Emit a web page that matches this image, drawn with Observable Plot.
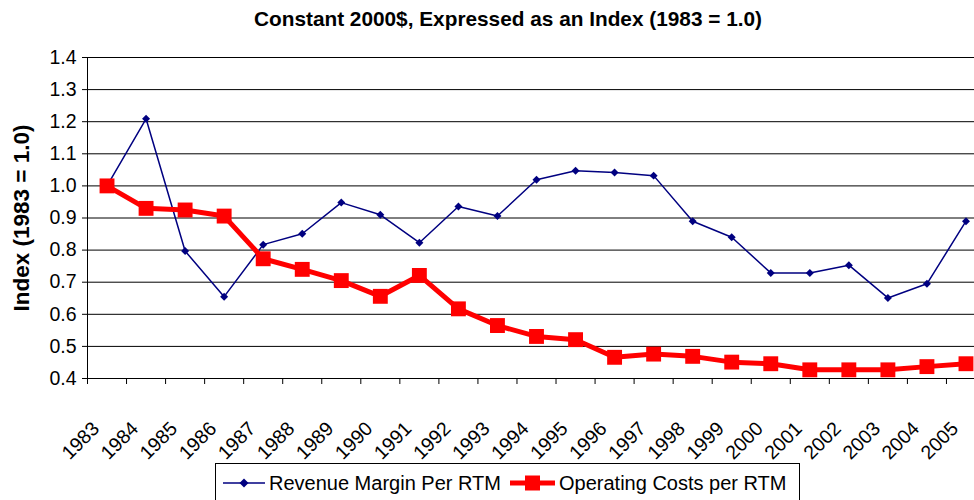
<!DOCTYPE html>
<html>
<head>
<meta charset="utf-8">
<script src="https://cdn.jsdelivr.net/npm/d3@7"></script>
<script src="https://cdn.jsdelivr.net/npm/@observablehq/plot@0.6"></script>
<style>
  html, body { margin: 0; padding: 0; background: #fff; overflow: hidden; width: 974px; height: 500px; }
  body { font-family: "Liberation Sans", Arial, sans-serif; position: relative; }
  #title { position: absolute; left: 0; top: 0; width: 974px; height: 40px; box-sizing: border-box; padding-left: 42px;
           text-align: center; font-weight: bold; font-size: 20.8px; line-height: 38px; color: #000; white-space: nowrap; }
  #chart { position: absolute; left: 0; top: 40px; width: 985px; }
  #chart svg { max-width: none !important; }
  #legend { position: absolute; left: 215px; top: 463px; width: 585px; height: 45px; box-sizing: border-box;
            border: 1px solid #000; font-size: 20px; color: #000; }
  #legend svg { position: absolute; top: 9px; display: block; }
  #legend span { position: absolute; top: 0; line-height: 38px; white-space: nowrap; }
</style>
</head>
<body>
<div id="title"></div>
<div id="chart"></div>
<div id="legend"></div>
<script>
const titleText = "Constant 2000$, Expressed as an Index (1983 = 1.0)";
const yLabel = "Index (1983 = 1.0)";
const seriesNames = ["Revenue Margin Per RTM", "Operating Costs per RTM"];
const seriesColors = ["#000080", "#ff0000"];

const years = [1983, 1984, 1985, 1986, 1987, 1988, 1989, 1990, 1991, 1992, 1993, 1994,
               1995, 1996, 1997, 1998, 1999, 2000, 2001, 2002, 2003, 2004, 2005];
const revenueMargin = [1.0, 1.209, 0.797, 0.655, 0.817, 0.851, 0.948, 0.910, 0.823, 0.936, 0.906, 1.019,
                       1.047, 1.042, 1.032, 0.890, 0.840, 0.729, 0.729, 0.753, 0.651, 0.695, 0.890];
const operatingCosts = [1.0, 0.930, 0.925, 0.906, 0.773, 0.740, 0.705, 0.656, 0.721, 0.617, 0.565, 0.531,
                        0.521, 0.466, 0.476, 0.469, 0.451, 0.446, 0.427, 0.427, 0.427, 0.437, 0.446];
const yTicks = [0.4, 0.5, 0.6, 0.7, 0.8, 0.9, 1.0, 1.1, 1.2, 1.3, 1.4];

const data = years.map((year, i) => ({year, revenue: revenueMargin[i], costs: operatingCosts[i]}));
const boundaries = years.map(y => y - 0.5).concat([years[years.length - 1] + 0.5]);

document.getElementById("title").textContent = titleText;

const chart = Plot.plot({
  width: 985,
  height: 410,
  marginLeft: 87,
  marginRight: 0,
  marginTop: 17,
  marginBottom: 72,
  style: {fontFamily: "'Liberation Sans', Arial, sans-serif", color: "#000", background: "#fff", overflow: "visible"},
  x: {type: "linear", domain: [boundaries[0], boundaries[boundaries.length - 1]]},
  y: {domain: [yTicks[0], yTicks[yTicks.length - 1]]},
  marks: [
    Plot.ruleY(yTicks.slice(1), {stroke: "#000", strokeWidth: 1}),
    Plot.ruleX([boundaries[0]], {stroke: "#000", strokeWidth: 1}),
    Plot.ruleY([yTicks[0]], {stroke: "#000", strokeWidth: 1}),
    Plot.axisY({ticks: yTicks, tickFormat: d3.format(".1f"), tickSize: 5, tickPadding: 6, fontSize: 19.5, label: null, stroke: "#000"}),
    Plot.axisX({ticks: boundaries, tickSize: 6, tickFormat: () => "", label: null, stroke: "#000"}),
    Plot.text(years, {x: d => d, frameAnchor: "bottom", text: d => String(d), rotate: -45, textAnchor: "end", lineAnchor: "middle",
                      dx: -11, dy: 47, fontSize: 19.5}),
    Plot.line(data, {x: "year", y: "revenue", stroke: seriesColors[0], strokeWidth: 1.5}),
    Plot.dot(data, {x: "year", y: "revenue", symbol: "diamond2", fill: seriesColors[0], stroke: "none", r: 3.6}),
    Plot.line(data, {x: "year", y: "costs", stroke: seriesColors[1], strokeWidth: 5}),
    Plot.dot(data, {x: "year", y: "costs", symbol: "square", fill: seriesColors[1], stroke: "none", r: 8.4}),
    Plot.text([yLabel], {frameAnchor: "left", rotate: -90, dx: -66, textAnchor: "middle", fontSize: 22.5, fontWeight: "bold"})
  ]
});
document.getElementById("chart").appendChild(chart);

// Legend
const legend = document.getElementById("legend");
const ns = "http://www.w3.org/2000/svg";
function addItem(swatchLeft, swatchWidth, textLeft, name, color, kind) {
  const svg = document.createElementNS(ns, "svg");
  svg.setAttribute("width", swatchWidth); svg.setAttribute("height", 20);
  svg.style.left = swatchLeft + "px";
  const line = document.createElementNS(ns, "line");
  line.setAttribute("x1", 0); line.setAttribute("x2", swatchWidth); line.setAttribute("y1", 10); line.setAttribute("y2", 10);
  line.setAttribute("stroke", color); line.setAttribute("stroke-width", kind === "square" ? 5 : 1.5);
  svg.appendChild(line);
  const c = swatchWidth / 2;
  if (kind === "square") {
    const r = document.createElementNS(ns, "rect");
    r.setAttribute("x", c - 7.5); r.setAttribute("y", 2.5); r.setAttribute("width", 15); r.setAttribute("height", 15);
    r.setAttribute("fill", color); svg.appendChild(r);
  } else {
    const p = document.createElementNS(ns, "path");
    p.setAttribute("d", `M${c},5.5L${c + 4.5},10L${c},14.5L${c - 4.5},10Z`);
    p.setAttribute("fill", color); svg.appendChild(p);
  }
  legend.appendChild(svg);
  const span = document.createElement("span");
  span.textContent = name;
  span.style.left = textLeft + "px";
  legend.appendChild(span);
}
addItem(7, 42, 53, seriesNames[0], seriesColors[0], "diamond");
addItem(294, 45, 343, seriesNames[1], seriesColors[1], "square");
</script>
</body>
</html>
